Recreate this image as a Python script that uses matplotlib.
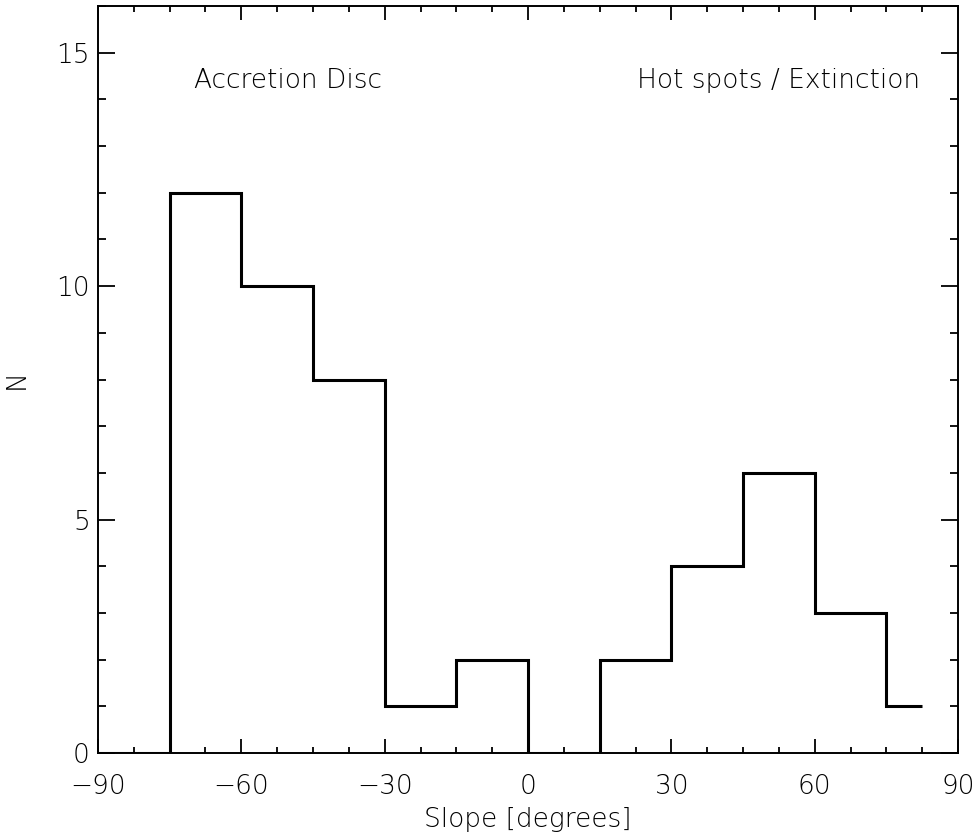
import matplotlib.pyplot as plt
from matplotlib.ticker import MultipleLocator

# histogram of slopes
bin_edges = [-90, -75, -60, -45, -30, -15, 0, 15, 30, 45, 60, 75, 82.5]
counts = [0, 12, 10, 8, 1, 2, 0, 2, 4, 6, 3, 1]

x_ticks = [-90, -60, -30, 0, 30, 60, 90]
y_ticks = [0, 5, 10, 15]

plt.rcParams['font.family'] = ['DejaVu Sans']
plt.rcParams['font.weight'] = 'light'
plt.rcParams['axes.labelweight'] = 'light'

fig = plt.figure(figsize=(9.77, 8.36), dpi=100)
ax = fig.add_axes([0.1003, 0.0993, 0.8803, 0.8935])

ax.stairs(counts, bin_edges, color='black', linewidth=2.2, baseline=None)

ax.set_xlim(-90, 90)
ax.set_ylim(0, 16)
ax.set_xticks(x_ticks)
ax.set_yticks(y_ticks)
ax.xaxis.set_minor_locator(MultipleLocator(7.5))
ax.yaxis.set_minor_locator(MultipleLocator(1))

ax.tick_params(axis='both', which='both', direction='in', top=True, right=True,
               labelsize=19, labelcolor='black', color='black', width=1.3)
ax.tick_params(axis='x', which='major', length=10, pad=15)
ax.tick_params(axis='x', which='minor', length=4.5)
ax.tick_params(axis='y', which='major', length=12, pad=6)
ax.tick_params(axis='y', which='minor', length=6)

for sp in ax.spines.values():
    sp.set_linewidth(1.4)

ax.set_xlabel('Slope [degrees]', fontsize=19, labelpad=6)
ax.set_ylabel('N', fontsize=19, labelpad=20)

ax.text(-70, 14.4, 'Accretion Disc', fontsize=19, ha='left', va='center')
ax.text(82, 14.4, 'Hot spots / Extinction', fontsize=19, ha='right', va='center')

fig.savefig('out.png', dpi=100)
